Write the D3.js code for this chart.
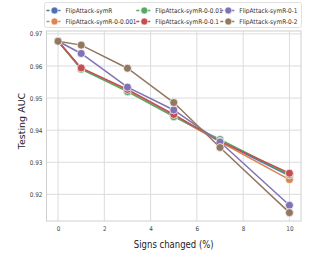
<!DOCTYPE html>
<html>
<head>
<meta charset="utf-8">
<script src="https://cdn.jsdelivr.net/npm/d3@7"></script>
<style>
  body { margin: 0; background: #fff; }
  text { font-family: "DejaVu Sans", sans-serif; }
</style>
</head>
<body>
<div id="chart"></div>
<script>
// data
var xs = [0, 1, 3, 5, 7, 10];
var names = ["FlipAttack-symR", "FlipAttack-symR-0-0.001", "FlipAttack-symR-0-0.01",
             "FlipAttack-symR-0-0.1", "FlipAttack-symR-0-1", "FlipAttack-symR-0-2"];
var symR      = [0.9677, 0.9592, 0.9524, 0.9446, 0.9366, 0.9258];
var symR0001  = [0.9677, 0.9591, 0.9523, 0.9444, 0.9364, 0.9246];
var symR001   = [0.9677, 0.9590, 0.9520, 0.9442, 0.9371, 0.9261];
var symR01    = [0.9677, 0.9594, 0.9527, 0.9449, 0.9365, 0.9266];
var symR1     = [0.9677, 0.9639, 0.9534, 0.9463, 0.9363, 0.9166];
var symR2     = [0.9677, 0.9665, 0.9593, 0.9486, 0.9346, 0.9143];
var xTicks = [0, 2, 4, 6, 8, 10];
var yTicks = [0.92, 0.93, 0.94, 0.95, 0.96, 0.97];
var colors = ["#4c72b0", "#dd8452", "#55a868", "#c44e52", "#8172b3", "#937860"];

var series = [symR, symR0001, symR001, symR01, symR1, symR2].map(function(v, i) {
  return { name: names[i], color: colors[i], values: v };
});

var W = 312, H = 255;
var m = { left: 46.5, right: 11, top: 31, bottom: 34 };

var svg = d3.select("#chart").append("svg")
  .attr("width", W).attr("height", H);

var x = d3.scaleLinear().domain([-0.5, 10.5]).range([m.left, W - m.right]);
var y = d3.scaleLinear().domain([0.9117, 0.9709]).range([H - m.bottom, m.top]);

// the reference text is a bit narrower than DejaVu, squeeze horizontal text
function squeeze(sel, k) {
  sel.each(function() {
    var w = this.getComputedTextLength();
    d3.select(this).attr("textLength", w * k).attr("lengthAdjust", "spacingAndGlyphs");
  });
}

// grid
var g = svg.append("g");
g.selectAll(".gx").data(xTicks).enter().append("line")
  .attr("x1", function(d) { return x(d); }).attr("x2", function(d) { return x(d); })
  .attr("y1", m.top).attr("y2", H - m.bottom)
  .attr("stroke", "#dcdcdc").attr("stroke-width", 1);
g.selectAll(".gy").data(yTicks).enter().append("line")
  .attr("y1", function(d) { return y(d); }).attr("y2", function(d) { return y(d); })
  .attr("x1", m.left).attr("x2", W - m.right)
  .attr("stroke", "#dcdcdc").attr("stroke-width", 1);

svg.append("rect")
  .attr("x", m.left).attr("y", m.top)
  .attr("width", W - m.right - m.left).attr("height", H - m.bottom - m.top)
  .attr("fill", "none").attr("stroke", "#d0d0d0").attr("stroke-width", 1);

// axes
var xAxis = svg.append("g")
  .attr("transform", "translate(0," + (H - m.bottom) + ")")
  .call(d3.axisBottom(x).tickValues(xTicks).tickSize(0).tickPadding(5));
var yAxis = svg.append("g")
  .attr("transform", "translate(" + m.left + ",0)")
  .call(d3.axisLeft(y).tickValues(yTicks).tickSize(0).tickPadding(4).tickFormat(d3.format(".2f")));
[xAxis, yAxis].forEach(function(a) {
  a.select(".domain").remove();
  a.selectAll("text").attr("font-size", 6.5).attr("fill", "#444")
    .attr("font-family", "DejaVu Sans")
    .call(squeeze, 0.88);
});

svg.append("text")
  .attr("x", (m.left + W - m.right) / 2).attr("y", 247.5)
  .attr("text-anchor", "middle").attr("font-size", 10).attr("fill", "#222")
  .text("Signs changed (%)")
  .call(squeeze, 0.85);
svg.append("text")
  .attr("transform", "translate(24.5,121) rotate(-90)")
  .attr("text-anchor", "middle").attr("font-size", 9.5).attr("fill", "#222")
  .text("Testing AUC");

// lines + markers
var line = d3.line()
  .x(function(d, i) { return x(xs[i]); })
  .y(function(d) { return y(d); });

var sg = svg.selectAll(".series").data(series).enter().append("g");
sg.append("path")
  .attr("d", function(s) { return line(s.values); })
  .attr("fill", "none")
  .attr("stroke", function(s) { return s.color; })
  .attr("stroke-width", 1.5);
sg.selectAll("circle").data(function(s) {
    return s.values.map(function(v, i) { return { x: xs[i], y: v, c: s.color }; });
  }).enter().append("circle")
  .attr("cx", function(d) { return x(d.x); })
  .attr("cy", function(d) { return y(d.y); })
  .attr("r", 4)
  .attr("fill", function(d) { return d.c; })
  .attr("stroke", "#fff").attr("stroke-width", 0.7);

// legend
var legend = svg.append("g");
legend.append("rect")
  .attr("x", 44.5).attr("y", 2.5).attr("width", 257).attr("height", 25)
  .attr("rx", 2).attr("fill", "#fff").attr("stroke", "#d8d8d8").attr("stroke-width", 0.8);
var colX = [54.5, 144.3, 228.3];
var rowY = [10.5, 21.5];
var items = legend.selectAll(".item").data(series).enter().append("g")
  .attr("transform", function(s, i) {
    var col = Math.floor(i / 2), row = i % 2;
    return "translate(" + colX[col] + "," + rowY[row] + ")";
  });
items.append("line")
  .attr("x1", -8).attr("x2", 8)
  .attr("stroke", function(s) { return s.color; })
  .attr("stroke-width", 1.5)
  .attr("stroke-dasharray", "3,2.5");
items.append("circle")
  .attr("r", 3.5)
  .attr("fill", function(s) { return s.color; })
  .attr("stroke", "#fff").attr("stroke-width", 0.6);
items.append("text")
  .attr("x", 11).attr("dy", "0.35em")
  .attr("font-size", 6.5).attr("fill", "#333")
  .text(function(s) { return s.name; })
  .call(squeeze, 0.89);
</script>
</body>
</html>
